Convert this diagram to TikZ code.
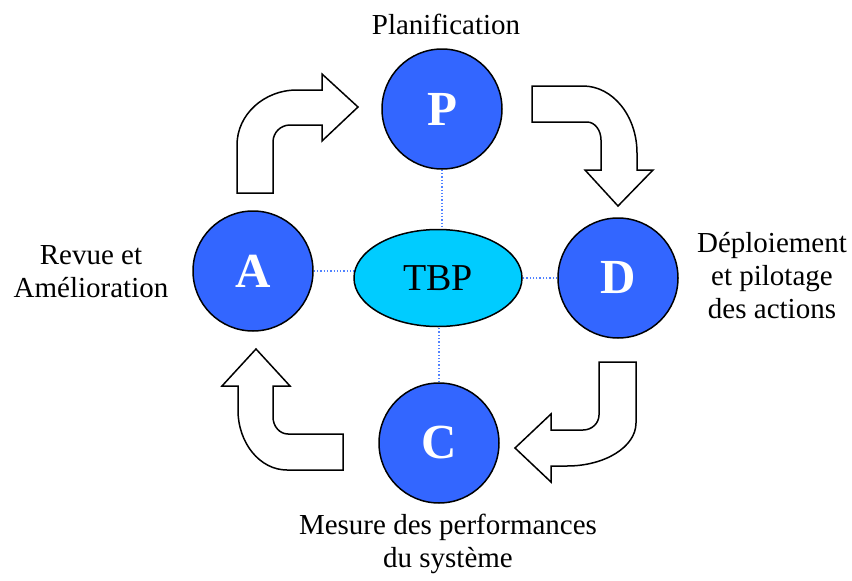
\documentclass[tikz,border=0pt]{standalone}
\usepackage{fontspec}
\setmainfont{Liberation Serif}
\usepackage{tikz}
\definecolor{white}{rgb}{1.0, 1.0, 1.0}
\definecolor{black}{rgb}{0.0, 0.0, 0.0}
\definecolor{pdcablue}{RGB}{51,102,255}
\definecolor{tbpcyan}{RGB}{0,204,255}
\definecolor{dotblue}{RGB}{80,130,255}
\usetikzlibrary{shapes.geometric}
\pgfdeclarelayer{edgelayer}
\pgfdeclarelayer{nodelayer}
\pgfsetlayers{edgelayer,nodelayer,main}
\tikzstyle{phase}=[circle,fill=pdcablue,draw=black,line width=1.5pt,minimum size=120pt,inner sep=0pt,text=white,font=\fontsize{49}{50}\selectfont\bfseries]
\tikzstyle{hub}=[ellipse,fill=tbpcyan,draw=black,line width=1.5pt,minimum width=168pt,minimum height=97pt,inner sep=0pt,font=\fontsize{38}{40}\selectfont]
\tikzstyle{caption}=[align=center,anchor=base,inner sep=0pt,font=\fontsize{29}{32}\selectfont]
\tikzstyle{link}=[draw=dotblue,dotted,line width=1.3pt]
\tikzstyle{turn}=[draw=black,fill=white,line width=1.5pt,line join=miter]

\begin{document}
\begin{tikzpicture}[x=1pt,y=-1pt]
        \useasboundingbox (0,0) rectangle (852,581);
        \begin{pgfonlayer}{nodelayer}
            \node [style = phase] (P) at (442, 109) {P};
            \node [style = phase] (D) at (618, 278) {D};
            \node [style = phase] (C) at (439, 443) {C};
            \node [style = phase] (A) at (253, 271) {A};
            \node [style = hub] (tbp) at (438, 278) {TBP};

            \node [style = caption] (plan) at (446, 34) {Planification};
            \node [style = caption] (deploy) at (772, 318) {Déploiement\\[1pt]et pilotage\\[1pt]des actions};
            \node [style = caption] (measure) at (448, 567) {Mesure des performances\\[1pt]du système};
            \node [style = caption] (review) at (91, 297) {Revue et\\[1pt]Amélioration};
        \end{pgfonlayer}

        \begin{pgfonlayer}{edgelayer}
            \draw [style = link] (P) to (P |- tbp);
            \draw [style = link] (C) to (C |- tbp);
            \draw [style = link] (A) to (A -| tbp);
            \draw [style = link] (D) to (D -| tbp);
        \end{pgfonlayer}

        % A to P
        \draw [style = turn] (237,193) -- (237,145) .. controls (237,114.6) and (263.9,90) .. (297,90)
            -- (322,90) -- (322,74) -- (358,107) -- (322,141) -- (322,125) -- (290,125)
            .. controls (280.6,125) and (273,132.6) .. (273,142) -- (273,193) -- cycle;
        % P to D
        \draw [style = turn] (532,86) -- (583,86) .. controls (612.8,86) and (637,116) .. (637,153)
            -- (637,170) -- (653,170) -- (618,206) -- (585,170) -- (601,170) -- (601,140)
            .. controls (601,130) and (594.7,122) .. (587,122) -- (532,122) -- cycle;
        % D to C
        \draw [style = turn] (599,362) -- (636,362) -- (636,423) .. controls (636,446.7) and (605.1,466) .. (567,466)
            -- (551,466) -- (551,482) -- (515,448) -- (551,414) -- (551,430) -- (583,430)
            .. controls (591.8,430) and (599,423.3) .. (599,415) -- cycle;
        % C to A
        \draw [style = turn] (256,349) -- (290,386) -- (273,386) -- (273,417)
            .. controls (273,426.4) and (279.7,434) .. (288,434) -- (343,434) -- (343,470) -- (287,470)
            .. controls (259.9,470) and (238,443.1) .. (238,410) -- (238,386) -- (222,386) -- cycle;
    \end{tikzpicture}
\end{document}
